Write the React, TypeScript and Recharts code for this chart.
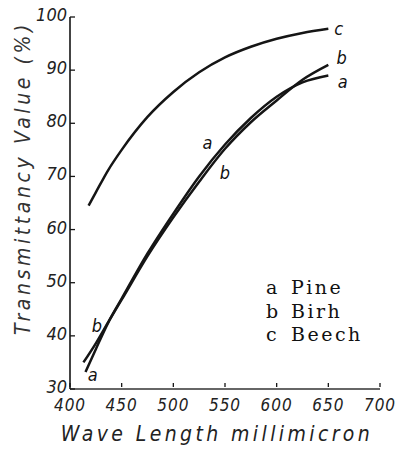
import React from 'react';
import { LineChart, Line, XAxis, YAxis, Label, Legend, ReferenceDot } from 'recharts';

// wave length (millimicron) and transmittancy (%)
const wavePine = [415, 425, 437, 450, 475, 500, 525, 550, 575, 600, 625, 650];
const pine = [33.2, 37.5, 42.5, 47, 55.5, 63, 70, 76, 81, 85, 87.7, 89];
const waveBirh = [413, 425, 437, 450, 475, 500, 525, 550, 575, 600, 625, 650];
const birh = [35, 38.6, 42.6, 46.8, 55, 62.3, 69, 75.2, 80.2, 84.3, 88.2, 91];
const waveBeech = [418, 425, 437, 450, 475, 500, 525, 550, 575, 600, 625, 650];
const beech = [64.5, 67, 71.2, 75, 81.2, 85.9, 89.6, 92.4, 94.4, 95.9, 97, 97.8];

const seriesKeys = ['a', 'b', 'c'];
const seriesNames = ['Pine', 'Birh', 'Beech'];

const xTicks = [400, 450, 500, 550, 600, 650, 700];
const yTicks = [30, 40, 50, 60, 70, 80, 90, 100];

// curve letters written on the plot
const noteText = ['c', 'b', 'a', 'a', 'b', 'b', 'a'];
const noteWave = [660, 663, 664, 533, 550, 426, 422];
const noteValue = [97.8, 92.3, 87.9, 76.3, 70.7, 41.9, 32.8];

const toRows = (xs: number[], ys: number[]) => xs.map((x, i) => ({ x, y: ys[i] }));

const hand = "'DejaVu Sans Condensed', 'DejaVu Sans', sans-serif";
const ink = '#151515';

const YTick = (props: any) => {
  const { x, y, payload } = props;
  return (
    <g>
      <line x1={x + 3} x2={x + 8} y1={y} y2={y} stroke={ink} strokeWidth={1.3} />
      <text x={x} y={y} dy={4} textAnchor="end" fontFamily={hand} fontStyle="italic" fontWeight={300} fontSize={18} fill="#222">
        {payload.value}
      </text>
    </g>
  );
};

const XTick = (props: any) => {
  const { x, y, payload } = props;
  return (
    <g>
      <line x1={x} x2={x} y1={y - 4} y2={y - 8} stroke={ink} strokeWidth={1.3} />
      <text x={x} y={y} dy={20} textAnchor="middle" fontFamily={hand} fontStyle="italic" fontWeight={300} fontSize={17} letterSpacing={1} fill="#222">
        {payload.value}
      </text>
    </g>
  );
};

const LegendBox = () => (
  <div style={{ fontFamily: "'DejaVu Serif', serif", fontSize: 19, lineHeight: '23.5px', letterSpacing: 2.5, color: '#111', whiteSpace: 'nowrap' }}>
    {seriesKeys.map((k, i) => (
      <div key={k}>
        <span style={{ display: 'inline-block', width: 25 }}>{k}</span>
        {seriesNames[i]}
      </div>
    ))}
  </div>
);

export default function App() {
  const lines = [toRows(wavePine, pine), toRows(waveBirh, birh), toRows(waveBeech, beech)];
  return (
    <div style={{ position: 'absolute', left: 0, top: 0, width: 398, height: 452, background: '#fff' }}>
      <LineChart width={398} height={452} margin={{ top: 17, right: 18, left: 0, bottom: 0 }}>
        <XAxis
          dataKey="x"
          type="number"
          domain={[400, 700]}
          ticks={xTicks}
          allowDataOverflow
          height={63}
          tickSize={0}
          tickLine={false}
          tick={<XTick />}
          axisLine={{ stroke: '#333', strokeWidth: 1.5 }}
        >
          <Label
            content={({ viewBox }: any) => (
              <text x={viewBox.x + viewBox.width / 2 - 8} y={viewBox.y + 52} textAnchor="middle" fontFamily={hand} fontStyle="italic" fontWeight={300} fontSize={21} letterSpacing={3.4} fill="#222">
                Wave Length millimicron
              </text>
            )}
          />
        </XAxis>
        <YAxis
          dataKey="y"
          type="number"
          domain={[30, 100]}
          ticks={yTicks}
          allowDataOverflow
          width={70}
          tickSize={0}
          tickMargin={3}
          tickLine={false}
          tick={<YTick />}
          axisLine={{ stroke: ink, strokeWidth: 1.6 }}
        >
          <Label
            content={() => (
              <text x={0} y={0} transform="translate(30 178) rotate(-90)" textAnchor="middle" fontFamily={hand} fontStyle="italic" fontWeight={300} fontSize={21} letterSpacing={3.6} fill="#333">
                Transmittancy Value (%)
              </text>
            )}
          />
        </YAxis>
        <Legend
          layout="horizontal"
          verticalAlign="middle"
          align="center"
          content={<LegendBox />}
          wrapperStyle={{ left: 266, top: 276, width: 'auto' }}
        />
        {lines.map((rows, i) => (
          <Line
            key={seriesKeys[i]}
            data={rows}
            dataKey="y"
            name={seriesNames[i]}
            type="monotone"
            stroke={ink}
            strokeWidth={2.5}
            dot={false}
            activeDot={false}
            isAnimationActive={false}
          />
        ))}
        {noteText.map((t, i) => (
          <ReferenceDot
            key={i}
            x={noteWave[i]}
            y={noteValue[i]}
            r={0}
            ifOverflow="visible"
            label={{ value: t, position: 'center', fill: '#111', fontSize: 18, fontStyle: 'italic', fontFamily: hand }}
          />
        ))}
      </LineChart>
    </div>
  );
}
